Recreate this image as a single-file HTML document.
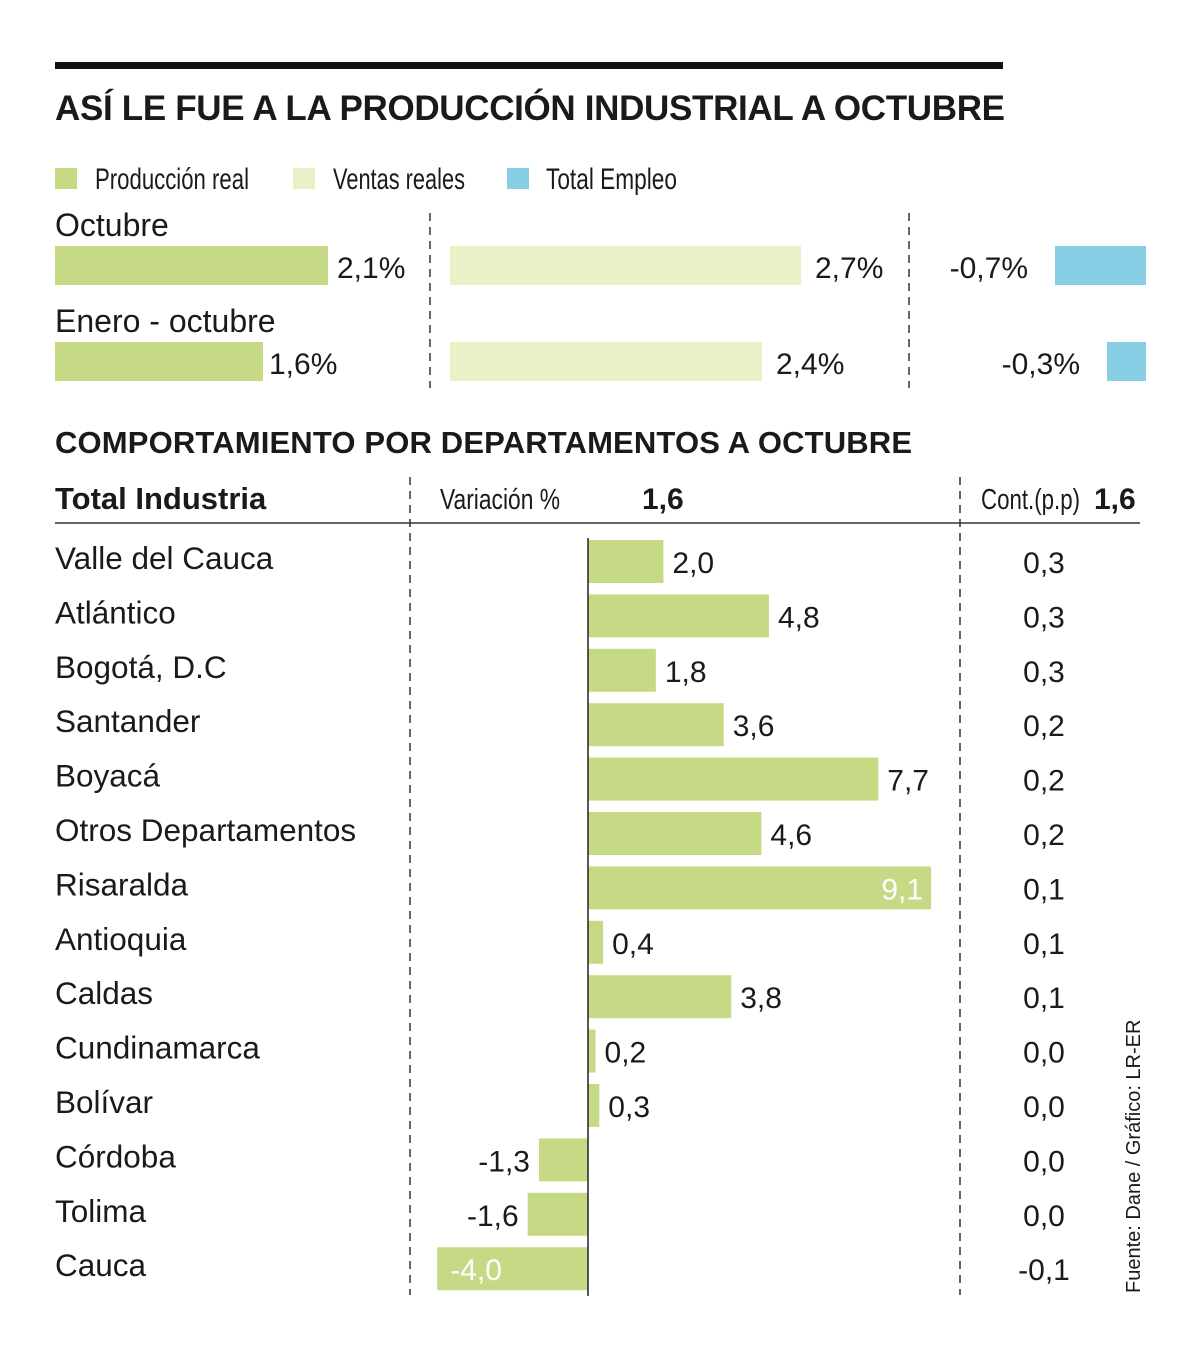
<!DOCTYPE html>
<html><head><meta charset="utf-8">
<style>
html,body{margin:0;padding:0;background:#fff;}
body{width:1200px;height:1357px;overflow:hidden;}
svg text{font-family:"Liberation Sans",sans-serif;fill:#1a1a1a;}
</style></head>
<body>
<svg id="chart" width="1200" height="1357" viewBox="0 0 1200 1357">
  <rect x="55" y="62" width="948" height="7" fill="#111"/>
  <text x="55" y="120" font-size="35" font-weight="bold" textLength="950">ASÍ LE FUE A LA PRODUCCIÓN INDUSTRIAL A OCTUBRE</text>
  <g>
    <rect x="55" y="168" width="22" height="21" fill="#c6da86"/>
    <text x="95" y="189" font-size="30" textLength="154" lengthAdjust="spacingAndGlyphs">Producción real</text>
    <rect x="293" y="168" width="22" height="21" fill="#ecf0c6"/>
    <text x="333" y="189" font-size="30" textLength="132" lengthAdjust="spacingAndGlyphs">Ventas reales</text>
    <rect x="507" y="168" width="22" height="21" fill="#87cde4"/>
    <text x="546" y="189" font-size="30" textLength="131" lengthAdjust="spacingAndGlyphs">Total Empleo</text>
  </g>
  <line x1="430" y1="213" x2="430" y2="388" stroke="#333" stroke-width="1.5" stroke-dasharray="8,6"/>
  <line x1="909" y1="213" x2="909" y2="388" stroke="#333" stroke-width="1.5" stroke-dasharray="8,6"/>
  <g id="summary"></g>

  <text x="55" y="453" font-size="31" font-weight="bold" textLength="857">COMPORTAMIENTO POR DEPARTAMENTOS A OCTUBRE</text>
  <text x="55" y="509" font-size="31" font-weight="bold">Total Industria</text>
  <text x="440" y="509" font-size="29" textLength="120" lengthAdjust="spacingAndGlyphs">Variación %</text>
  <text x="642" y="509" font-size="30" font-weight="bold">1,6</text>
  <text x="981" y="509" font-size="29" textLength="99" lengthAdjust="spacingAndGlyphs">Cont.(p.p)</text>
  <text x="1094" y="509" font-size="30" font-weight="bold">1,6</text>
  <line x1="55" y1="523" x2="1140" y2="523" stroke="#333" stroke-width="1.5"/>
  <line x1="410" y1="477" x2="410" y2="1295" stroke="#333" stroke-width="1.5" stroke-dasharray="8,6"/>
  <line x1="960" y1="477" x2="960" y2="1295" stroke="#333" stroke-width="1.5" stroke-dasharray="8,6"/>
  <g id="depts"></g>
  <line x1="588" y1="538" x2="588" y2="1296" stroke="#222" stroke-width="1.5"/>
  <text x="1140" y="1293" font-size="20" transform="rotate(-90 1140 1293)">Fuente: Dane / Gráfico: LR-ER</text>
</svg>
<script>
const periods = ["Octubre", "Enero - octubre"];
const produccion = [2.1, 1.6];
const ventas = [2.7, 2.4];
const empleo = [-0.7, -0.3];

const departments = ["Valle del Cauca","Atlántico","Bogotá, D.C","Santander","Boyacá","Otros Departamentos","Risaralda","Antioquia","Caldas","Cundinamarca","Bolívar","Córdoba","Tolima","Cauca"];
const variacion = [2.0, 4.8, 1.8, 3.6, 7.7, 4.6, 9.1, 0.4, 3.8, 0.2, 0.3, -1.3, -1.6, -4.0];
const contribucion = [0.3, 0.3, 0.3, 0.2, 0.2, 0.2, 0.1, 0.1, 0.1, 0.0, 0.0, 0.0, 0.0, -0.1];

const NS = "http://www.w3.org/2000/svg";
const fmt = v => v.toFixed(1).replace(".", ",");
function mk(tag, attrs, parent, txt) {
  const e = document.createElementNS(NS, tag);
  for (const k in attrs) e.setAttribute(k, attrs[k]);
  if (txt !== undefined) e.textContent = txt;
  parent.appendChild(e);
  return e;
}
const sScale = v => Math.abs(v) * 130;
const summary = document.getElementById("summary");
periods.forEach((p, i) => {
  const top = 246 + i * 96;
  let t = mk("text", {x: 55, y: 236 + i * 96, "font-size": 32}, summary, p);
  
  
  let r = mk("rect", {x: 55, y: top, width: sScale(produccion[i]), height: 39, fill: "#c6da86"}, summary);
  
  
  t = mk("text", {x: 55 + sScale(produccion[i]) + (i ? 6 : 9), y: top + 32, "font-size": 30}, summary, fmt(produccion[i]) + "%");
  
  
  r = mk("rect", {x: 450, y: top, width: sScale(ventas[i]), height: 39, fill: "#ecf0c6"}, summary);
  
  
  t = mk("text", {x: 450 + sScale(ventas[i]) + 14, y: top + 32, "font-size": 30}, summary, fmt(ventas[i]) + "%");
  
  
  r = mk("rect", {x: 1146 - sScale(empleo[i]), y: top, width: sScale(empleo[i]), height: 39, fill: "#87cde4"}, summary);
  
  
  t = mk("text", {x: 1146 - sScale(empleo[i]) - 27, y: top + 32, "font-size": 30, "text-anchor": "end"}, summary, fmt(empleo[i]) + "%");
  
  
});

const zeroX = 588, unit = 37.7;
const xS = v => zeroX + v * unit;
const depts = document.getElementById("depts");
departments.forEach((d, i) => {
  const cy = 561 + i * 54.4;
  let t = mk("text", {x: 55, y: cy + 8, "font-size": 31.5}, depts, d);
  
  
  const v = variacion[i];
  const x0 = Math.min(xS(0), xS(v)), w = Math.abs(xS(v) - xS(0));
  const r = mk("rect", {x: x0, y: cy - 21, width: w, height: 43, fill: "#c6da86"}, depts);
  
  
  let attrs = {y: cy + 12, "font-size": 30};
  const inside = (v >= 0 && xS(v) + 70 > 955) || (v < 0 && xS(v) - 70 < 415);
  if (v >= 0) {
    if (inside) { attrs.x = xS(v) - 8; attrs["text-anchor"] = "end"; }
    else { attrs.x = xS(v) + 9; }
  } else {
    if (inside) { attrs.x = xS(v) + 13; }
    else { attrs.x = xS(v) - 9; attrs["text-anchor"] = "end"; }
  }
  t = mk("text", attrs, depts, fmt(v));
  if (inside) t.style.fill = "#fff";
  
  
  t = mk("text", {x: 1044, y: cy + 12, "font-size": 30, "text-anchor": "middle"}, depts, fmt(contribucion[i]));
  
  
});
</script>
</body></html>
